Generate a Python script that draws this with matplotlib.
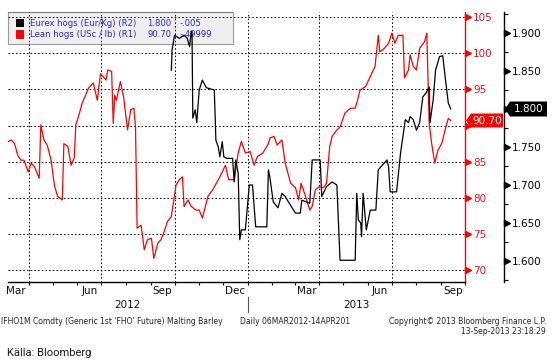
import matplotlib
matplotlib.use("Agg")
import matplotlib.pyplot as plt
import matplotlib.dates as mdates
import matplotlib.transforms as mtransforms
from matplotlib.patches import Rectangle, Polygon
from matplotlib.ticker import AutoMinorLocator, NullFormatter
import pandas as pd

# ---------------- data ----------------
lean_dates = ['2012-03-06','2012-03-10','2012-03-14','2012-03-18','2012-03-22','2012-03-26','2012-03-31','2012-04-04','2012-04-08','2012-04-14',
              '2012-04-16','2012-04-20','2012-04-24','2012-04-29','2012-05-03','2012-05-07','2012-05-13','2012-05-15','2012-05-20','2012-05-24',
              '2012-05-28','2012-05-30','2012-06-03','2012-06-07','2012-06-15','2012-06-21','2012-06-26','2012-06-30','2012-07-07','2012-07-09',
              '2012-07-14','2012-07-16','2012-07-18','2012-07-20','2012-07-25','2012-07-29','2012-08-03','2012-08-07','2012-08-11','2012-08-13',
              '2012-08-15','2012-08-20','2012-08-24','2012-08-28','2012-09-02','2012-09-05','2012-09-10','2012-09-14','2012-09-18','2012-09-22',
              '2012-09-27','2012-10-03','2012-10-07','2012-10-11','2012-10-13','2012-10-18','2012-10-22','2012-10-28','2012-11-01','2012-11-05',
              '2012-11-12','2012-11-18','2012-11-27','2012-12-04','2012-12-08','2012-12-15','2012-12-20','2012-12-24','2012-12-29','2013-01-04',
              '2013-01-09','2013-01-13','2013-01-20','2013-01-27','2013-01-29','2013-02-03','2013-02-07','2013-02-13','2013-02-17','2013-02-24',
              '2013-03-02','2013-03-06','2013-03-09','2013-03-14','2013-03-20','2013-03-23','2013-03-27','2013-03-31','2013-04-06','2013-04-10',
              '2013-04-14','2013-04-17','2013-04-23','2013-04-27','2013-05-03','2013-05-10','2013-05-16','2013-05-19','2013-05-22','2013-05-29',
              '2013-06-04','2013-06-10','2013-06-14','2013-06-16','2013-06-20','2013-06-27','2013-07-01','2013-07-05','2013-07-09','2013-07-15',
              '2013-07-17','2013-07-22','2013-07-24','2013-07-28','2013-08-01','2013-08-05','2013-08-11','2013-08-14','2013-08-17','2013-08-20',
              '2013-08-24','2013-08-28','2013-09-02','2013-09-06','2013-09-10','2013-09-13']
lean_values = [87.8, 88.0, 87.5, 85.9, 85.2, 85.2, 83.6, 84.8, 84.3, 82.7,
               90.1, 88.0, 87.3, 85.2, 81.8, 80.2, 79.7, 87.5, 87.1, 84.5,
               85.5, 90.1, 91.5, 93.1, 95.2, 95.9, 93.5, 97.2, 96.3, 97.7,
               97.5, 90.3, 94.2, 93.5, 96.1, 94.0, 89.4, 92.2, 92.4, 89.8,
               75.8, 76.2, 72.8, 74.2, 74.4, 71.6, 73.7, 74.2, 75.3, 76.7,
               77.4, 81.8, 82.5, 82.9, 78.8, 79.7, 78.8, 78.3, 78.3, 77.2,
               80.2, 81.1, 82.9, 84.5, 82.5, 82.5, 86.2, 87.8, 86.2, 86.4,
               84.5, 85.7, 86.2, 87.5, 88.3, 88.5, 87.3, 88.0, 84.8, 82.0,
               81.4, 79.7, 82.0, 80.4, 78.3, 78.8, 81.1, 81.5, 81.4, 82.0,
               87.1, 88.5, 89.4, 89.8, 91.7, 92.4, 92.4, 93.5, 94.9, 95.4,
               96.8, 98.2, 102.5, 100.2, 100.5, 101.4, 102.8, 101.4, 102.5, 102.5,
               96.6, 97.7, 99.8, 98.2, 97.7, 100.7, 101.6, 102.8, 90.3, 87.6,
               84.8, 86.6, 87.6, 89.4, 91.0, 90.70]

eurex_dates = ['2012-09-27','2012-09-28','2012-10-01','2012-10-07','2012-10-13','2012-10-17','2012-10-20','2012-10-22','2012-10-23','2012-10-24',
               '2012-10-27','2012-10-29','2012-11-01','2012-11-05','2012-11-10','2012-11-20','2012-11-22','2012-11-25','2012-11-27','2012-11-30',
               '2012-12-02','2012-12-06','2012-12-13','2012-12-15','2012-12-17','2012-12-20','2012-12-22','2012-12-24','2012-12-29','2013-01-03',
               '2013-01-07','2013-01-11','2013-01-25','2013-01-27','2013-01-29','2013-02-02','2013-02-08','2013-02-13','2013-02-17','2013-02-21',
               '2013-03-02','2013-03-08','2013-03-10','2013-03-20','2013-03-23','2013-04-02','2013-04-04','2013-04-10','2013-04-17','2013-04-23',
               '2013-04-27','2013-05-16','2013-05-18','2013-05-20','2013-05-23','2013-05-24','2013-05-26','2013-05-30','2013-06-04','2013-06-11',
               '2013-06-14','2013-06-25','2013-06-27','2013-06-29','2013-07-07','2013-07-12','2013-07-18','2013-07-22','2013-07-24','2013-07-28',
               '2013-08-01','2013-08-05','2013-08-09','2013-08-13','2013-08-17','2013-08-18','2013-08-22','2013-08-25','2013-08-30','2013-09-03',
               '2013-09-07','2013-09-10','2013-09-13']
eurex_values = [1.851, 1.878, 1.897, 1.893, 1.897, 1.893, 1.882, 1.902, 1.902, 1.788,
                1.799, 1.782, 1.825, 1.838, 1.828, 1.825, 1.759, 1.750, 1.737, 1.757,
                1.737, 1.735, 1.735, 1.704, 1.733, 1.715, 1.628, 1.641, 1.641, 1.700,
                1.700, 1.645, 1.645, 1.720, 1.709, 1.678, 1.670, 1.689, 1.685, 1.678,
                1.663, 1.663, 1.680, 1.676, 1.733, 1.733, 1.685, 1.698, 1.704, 1.700,
                1.601, 1.601, 1.689, 1.654, 1.650, 1.632, 1.689, 1.641, 1.667, 1.667,
                1.720, 1.733, 1.724, 1.691, 1.691, 1.742, 1.786, 1.782, 1.790, 1.786,
                1.772, 1.782, 1.816, 1.821, 1.829, 1.782, 1.812, 1.851, 1.869, 1.870,
                1.834, 1.808, 1.800]

red_ticks = [70, 75, 80, 85, 90, 95, 100, 105]
black_ticks = [1.600, 1.650, 1.700, 1.750, 1.800, 1.850, 1.900]
month_labels = ['Mar', 'Jun', 'Sep', 'Dec', 'Mar', 'Jun', 'Sep']
month_label_dates = ['2012-03-16', '2012-06-16', '2012-09-16', '2012-12-16',
                     '2013-03-16', '2013-06-16', '2013-09-16']
year_labels = ['2012', '2013']
year_starts = ['2012-03-05 19:00', '2013-01-01']
year_ends = ['2013-01-01', '2013-10-01']
x_start, x_end = '2012-03-05 19:00', '2013-10-01'
red_lim = (68.38, 105.73)
black_lim = (1.5728, 1.9276)

legend_rows = [("Eurex hogs (Eur/Kg) (R2)", "1.800", "-.005", 'black'),
               ("Lean hogs (USc / lb) (R1)", "90.70", "-.49999", 'red')]
last_lean = lean_values[-1]
last_eurex = eurex_values[-1]

# ---------------- styling ----------------
W, H = 556, 362
RED = '#ff0000'
RED_TXT = '#e8141c'
BLUE = '#2a2ac8'
TICKFONT = 7.5

def fx(px):
    return px / W

def fy(py):
    return 1 - py / H

fig = plt.figure(figsize=(W / 100, H / 100), dpi=100)
fig.patch.set_facecolor('white')
ax = fig.add_axes([fx(8), fy(281.7), fx(465) - fx(8), fy(12) - fy(281.7)])
ax2 = ax.twinx()
ax.set_zorder(0)
ax2.set_zorder(1)

ld = pd.to_datetime(lean_dates)
ed = pd.to_datetime(eurex_dates)

ax.plot(ld, lean_values, color=RED, lw=0.9, zorder=2)
ax2.plot(ed, eurex_values, color='black', lw=0.9, zorder=2)

ax.set_xlim(pd.Timestamp(x_start), pd.Timestamp(x_end))
ax.set_ylim(*red_lim)
ax2.set_ylim(*black_lim)

# spines
for s in ['left', 'top']:
    ax.spines[s].set_visible(False)
ax.spines['right'].set_color(RED)
ax.spines['right'].set_linewidth(1.0)
ax.spines['bottom'].set_color('black')
ax.spines['bottom'].set_linewidth(1.0)
for s in ['left', 'top', 'bottom']:
    ax2.spines[s].set_visible(False)
ax2_pos = (504 - 8) / (465 - 8)
ax2.spines['right'].set_position(('axes', ax2_pos))
ax2.spines['right'].set_color('black')
ax2.spines['right'].set_linewidth(1.0)

# red axis (R1); the label under the last-value tag is hidden by the tag
ax.yaxis.tick_right()
ax.set_yticks(red_ticks)
ax.set_yticklabels(['' if t == round(last_lean / 5) * 5 else str(t) for t in red_ticks])
ax.tick_params(axis='y', which='major', length=0, pad=5.8, labelsize=TICKFONT,
               labelcolor=RED_TXT, right=True, left=False)

# black axis (R2)
ax2.set_yticks(black_ticks)
ax2.set_yticklabels(['' if abs(t - last_eurex) < 1e-9 else f"{t:.3f}" for t in black_ticks])
ax2.yaxis.set_minor_locator(AutoMinorLocator(2))
ax2.tick_params(axis='y', which='major', length=0, pad=5.4, labelsize=TICKFONT, labelcolor='black')
ax2.tick_params(axis='y', which='minor', length=2.9, width=0.8, direction='out', color='black')

# x axis
ax.xaxis.set_major_locator(mdates.MonthLocator(bymonth=(1, 4, 7, 10)))
ax.xaxis.set_minor_locator(mdates.MonthLocator())
ax.xaxis.set_major_formatter(NullFormatter())
ax.xaxis.set_minor_formatter(NullFormatter())
ax.tick_params(axis='x', which='both', length=2.3, width=0.8, direction='out', color='black')

# grid
ax.set_axisbelow(True)
ax.grid(axis='y', which='major', color='black', lw=0.7, linestyle=(0, (1.6, 2.2)))
ax.grid(axis='x', which='major', color='black', lw=0.7, linestyle=(0, (1.6, 2.2)))

# triangle tick markers
tr_red = mtransforms.offset_copy(mtransforms.blended_transform_factory(ax.transAxes, ax.transData),
                                 fig=fig, x=3.2, y=0, units='dots')
ax.plot([1.0] * len(red_ticks), red_ticks, ls='none', marker='>', ms=4.2, color=RED,
        mec=RED, transform=tr_red, clip_on=False, zorder=5)
tr_blk = mtransforms.offset_copy(mtransforms.blended_transform_factory(ax2.transAxes, ax2.transData),
                                 fig=fig, x=3.2, y=0, units='dots')
ax2.plot([ax2_pos] * len(black_ticks), black_ticks, ls='none', marker='>', ms=4.2, color='black',
         transform=tr_blk, clip_on=False, zorder=5)

# month / year labels
bt = mtransforms.blended_transform_factory(ax.transData, fig.transFigure)
for lab, d in zip(month_labels, month_label_dates):
    ax.text(pd.Timestamp(d), fy(291.5), lab, transform=bt, ha='center', va='center',
            fontsize=TICKFONT, color='#111111', clip_on=False)
for lab, a, b in zip(year_labels, year_starts, year_ends):
    mid = pd.Timestamp(a) + (pd.Timestamp(b) - pd.Timestamp(a)) / 2
    ax.text(mid, fy(305), lab, transform=bt, ha='center', va='center',
            fontsize=TICKFONT, color='#111111', clip_on=False)
sep = pd.Timestamp(year_ends[0])
ax.plot([sep, sep], [fy(297), fy(312)], transform=bt, color='#555555', lw=0.8, clip_on=False)

# legend box (drawn under the grid, inside the axes)
ax.add_patch(Rectangle((fx(8), fy(44)), fx(233) - fx(8), fy(12) - fy(44), transform=fig.transFigure,
                       facecolor='#efefef', edgecolor='#9a9a9a', lw=0.8, zorder=0.3, clip_on=False))
ax.add_patch(Rectangle((fx(8), fy(13)), fx(233) - fx(8), fy(12) - fy(13), transform=fig.transFigure,
                       facecolor='#7a7a7a', edgecolor='none', zorder=0.35, clip_on=False))
row_y = [23, 34.5]
for (name, val, chg, col), ry in zip(legend_rows, row_y):
    ax.add_patch(Rectangle((fx(15.5), fy(ry + 4.3)), fx(8.5), fy(0) - fy(8.6), transform=fig.transFigure,
                           facecolor=col, edgecolor='none', zorder=3, clip_on=False))
    for txt, xp in ((name, 29.5), (val, 147), (chg, 180)):
        ax.text(fx(xp), fy(ry), txt, transform=fig.transFigure, ha='left', va='center',
                fontsize=6.1, color=BLUE, family='DejaVu Sans', zorder=3, clip_on=False)

# last value tags
def tag(axis, value, x_tip, x_right, half_h, notch, color, text):
    y = axis.transData.transform((axis.get_xlim()[0], value))[1]
    pts = [(x_tip, y), (x_tip + notch, y + half_h), (x_right, y + half_h),
           (x_right, y - half_h), (x_tip + notch, y - half_h)]
    fig.add_artist(Polygon(pts, closed=True, transform=mtransforms.IdentityTransform(),
                           facecolor=color, edgecolor='none', zorder=6))
    fig.text((x_tip + notch + x_right) / 2 / W + 0.001, y / H, text, ha='center', va='center',
             fontsize=TICKFONT, color='white', zorder=7)

red_x = ax.transAxes.transform((1.0, 0))[0]
blk_x = ax2.transAxes.transform((ax2_pos, 0))[0]
tag(ax, last_lean, red_x + 1, red_x + 38, 7.0, 5, RED, f"{last_lean:.2f}")
tag(ax2, last_eurex, blk_x + 1, blk_x + 43, 7.5, 5, 'black', f"{last_eurex:.3f}")

# footer
FOOT = dict(fontsize=5.5, family='DejaVu Sans', color='#222222', va='center')
fig.text(fx(1), fy(321), "IFHO1M Comdty (Generic 1st 'FHO' Future) Malting Barley", ha='left', **FOOT)
fig.text(fx(240), fy(321), "Daily 06MAR2012-14APR201", ha='left', **FOOT)
fig.text(fx(546), fy(321), "Copyright\u00a9 2013 Bloomberg Finance L.P.", ha='right', **FOOT)
fig.text(fx(546), fy(332), "13-Sep-2013 23:18:29", ha='right', **FOOT)
fig.text(fx(7), fy(353), "Källa: Bloomberg", ha='left', va='center',
         fontsize=8.0, family=['Roboto', 'DejaVu Sans'], color='#1a1a1a')

fig.savefig('out.png', dpi=100, facecolor='white')
